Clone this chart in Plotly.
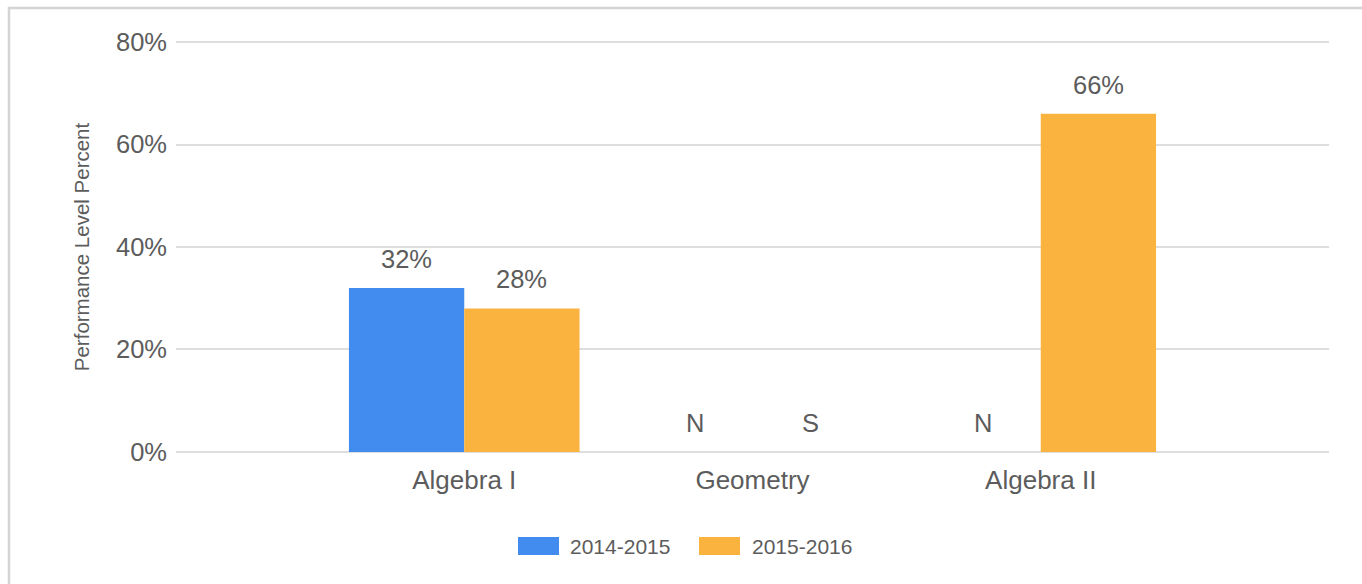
import plotly.graph_objects as go

# Chart data
subjects = ["Algebra I", "Geometry", "Algebra II"]
series_names = ["2014-2015", "2015-2016"]
values_2014_2015 = [32, None, None]
values_2015_2016 = [28, None, 66]
labels_2014_2015 = ["32%", "N", "N"]
labels_2015_2016 = ["28%", "S", "66%"]
y_ticks = [0, 20, 40, 60, 80]
y_tick_labels = ["0%", "20%", "40%", "60%", "80%"]

colors = ["#428BEF", "#FBB340"]
text_color = "#5c5c5c"
font_family = "Liberation Sans, Arial, sans-serif"

W, H = 1362, 584
L, R, T, B = 176, 33, 40, 130
plot_w = W - L - R
plot_h = H - T - B

positions = [1, 2, 3]
bar_offsets = [-0.2, 0.2]

fig = go.Figure()
series = [
    (series_names[0], values_2014_2015, labels_2014_2015, colors[0]),
    (series_names[1], values_2015_2016, labels_2015_2016, colors[1]),
]
for name, vals, labs, col in series:
    fig.add_trace(go.Bar(
        x=positions, y=[v if v is not None else 0 for v in vals],
        name=name, marker=dict(color=col, line=dict(width=0)),
        showlegend=False, hoverinfo="skip",
    ))

# Value labels above each bar
annotations = []
for (name, vals, labs, col), off in zip(series, bar_offsets):
    for p, v, lab in zip(positions, vals, labs):
        annotations.append(dict(
            x=p + off, y=v if v is not None else 0, xref="x", yref="y",
            text=lab, showarrow=False, yanchor="bottom", yshift=13,
            font=dict(size=25.5, color=text_color, family=font_family),
        ))


def px_x(px):
    return (px - L) / plot_w


def px_y(py):
    return (H - B - py) / plot_h


# Legend drawn as swatches and labels below the axis
shapes = []
legend_items = [(518, 568), (699, 750)]
for (sx, tx), name, col in zip(legend_items, series_names, colors):
    shapes.append(dict(type="rect", xref="paper", yref="paper",
                       x0=px_x(sx), x1=px_x(sx + 41), y0=px_y(555), y1=px_y(537),
                       fillcolor=col, line=dict(width=0)))
    annotations.append(dict(x=px_x(tx), y=px_y(546), xref="paper", yref="paper",
                            text=name, showarrow=False, xanchor="left", yanchor="middle",
                            font=dict(size=21, color=text_color, family=font_family)))

# Outer frame
shapes.append(dict(type="rect", xref="paper", yref="paper",
                   x0=px_x(9), x1=px_x(W + 20), y0=px_y(H + 20), y1=px_y(8),
                   fillcolor="rgba(0,0,0,0)", line=dict(color="#d4d4d4", width=2.5),
                   layer="below"))

fig.update_layout(
    width=W, height=H,
    margin=dict(l=L, r=R, t=T, b=B, autoexpand=False),
    paper_bgcolor="white", plot_bgcolor="white",
    barmode="group", bargap=0.2, bargroupgap=0,
    font=dict(family=font_family, color=text_color),
    annotations=annotations, shapes=shapes,
    showlegend=False,
)
fig.update_xaxes(
    range=[0, 4], tickvals=positions, ticktext=subjects,
    showgrid=False, zeroline=False, showline=False, ticks="",
    tickfont=dict(size=26, color=text_color, family=font_family),
    ticklabelstandoff=8,
)
fig.update_yaxes(
    range=[-0.4, 80.4], tickvals=y_ticks, ticktext=y_tick_labels,
    showgrid=True, gridcolor="#dedede", gridwidth=2,
    zeroline=False, showline=False, ticks="",
    tickfont=dict(size=25.5, color=text_color, family=font_family),
    ticklabelstandoff=8,
    title=dict(text="Performance Level Percent", standoff=20,
               font=dict(size=20.5, color=text_color, family=font_family)),
    automargin=False,
)

fig.write_html("out.html")
